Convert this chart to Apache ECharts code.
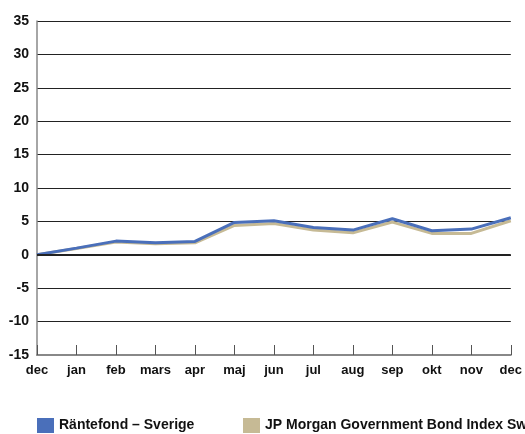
<!DOCTYPE html>
<html>
<head>
<meta charset="utf-8">
<script src="https://cdn.jsdelivr.net/npm/echarts@6/dist/echarts.min.js"></script>
<style>html,body{margin:0;padding:0;background:#fff}#c{width:525px;height:434px}</style>
</head>
<body>
<div id="c"></div>
<script>
const categories = ['dec','jan','feb','mars','apr','maj','jun','jul','aug','sep','okt','nov','dec'];
const fundName = 'Räntefond – Sverige';
const indexName = 'JP Morgan Government Bond Index Sweden';
const fundValues = [0, 1.0, 2.05, 1.8, 2.0, 4.85, 5.1, 4.1, 3.7, 5.4, 3.6, 3.85, 5.55];
const indexValues = [0, 0.95, 1.9, 1.65, 1.8, 4.4, 4.7, 3.7, 3.3, 4.9, 3.2, 3.2, 5.1];
const yTicks = {min: -15, max: 35, interval: 5};

const font = 'Liberation Sans';
const legendText = {fontFamily: font, fontWeight: 'bold', fontSize: 14, color: '#111'};
const chart = echarts.init(document.getElementById('c'));
chart.setOption({
  animation: false,
  backgroundColor: '#fff',
  grid: {left: 37, right: 13, top: 21, bottom: 79},
  legend: [
    {left: 32, bottom: -4, icon: 'rect', itemWidth: 17, itemHeight: 15,
     textStyle: legendText, data: [fundName]},
    {left: 238, bottom: -4, icon: 'rect', itemWidth: 17, itemHeight: 15,
     textStyle: legendText, data: [indexName], width: 900}
  ],
  xAxis: {
    type: 'category', data: categories, boundaryGap: false,
    axisLine: {onZero: false, lineStyle: {color: '#888', width: 2}},
    axisTick: {inside: true, length: 10, lineStyle: {color: '#555', width: 1}},
    axisLabel: {fontFamily: font, fontWeight: 'bold', fontSize: 13, color: '#111', margin: 9, interval: 0},
    splitLine: {show: false}
  },
  yAxis: {
    type: 'value', min: yTicks.min, max: yTicks.max, interval: yTicks.interval,
    axisLine: {show: true, lineStyle: {color: '#888', width: 1.5}},
    axisTick: {show: false},
    axisLabel: {fontFamily: font, fontWeight: 'bold', fontSize: 14, color: '#111', margin: 8},
    splitLine: {lineStyle: {color: '#222', width: 1}}
  },
  series: [
    {
      name: indexName, type: 'line', data: indexValues, symbol: 'none', z: 2,
      lineStyle: {color: '#C6BA95', width: 3}, itemStyle: {color: '#C6BA95'},
      markLine: {silent: true, symbol: 'none', label: {show: false},
        lineStyle: {color: '#222', width: 2, type: 'solid'}, data: [{yAxis: 0}]}
    },
    {
      name: fundName, type: 'line', data: fundValues, symbol: 'none', z: 3,
      lineStyle: {color: '#4A6FBA', width: 3}, itemStyle: {color: '#4A6FBA'}
    }
  ]
});
</script>
</body>
</html>
